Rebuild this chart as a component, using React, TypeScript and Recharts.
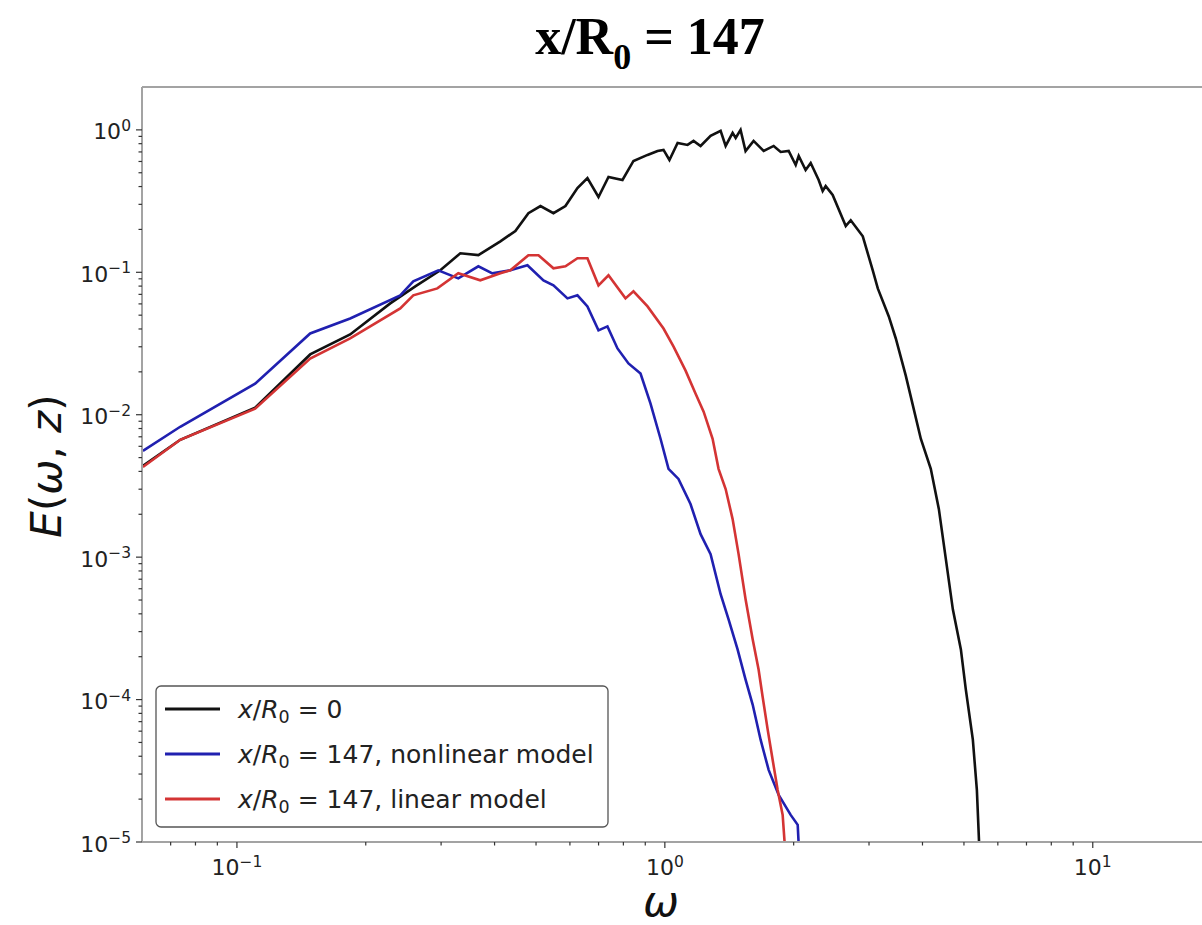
import React from "react";
import { LineChart, Line, XAxis, YAxis, Legend } from "recharts";

// ω and E(ω,z), one pair of arrays per curve
const BLACK_W = [0.0603, 0.0737, 0.1103, 0.1483, 0.1839, 0.2282, 0.2611, 0.2987, 0.3327, 0.3666, 0.4127, 0.4474, 0.4799, 0.5121, 0.5491, 0.5857, 0.6248, 0.6593, 0.6997, 0.7384, 0.7962, 0.8446, 0.911, 0.9614, 0.9929, 1.025, 1.071, 1.13, 1.167, 1.212, 1.279, 1.35, 1.387, 1.44, 1.464, 1.503, 1.544, 1.612, 1.702, 1.796, 1.865, 1.947, 2.022, 2.055, 2.133, 2.192, 2.288, 2.338, 2.376, 2.467, 2.647, 2.719, 2.901, 3.061, 3.145, 3.337, 3.465, 3.656, 3.756, 3.964, 4.183, 4.368, 4.536, 4.71, 4.918, 5.051, 5.245, 5.36, 5.476];
const BLACK_E = [0.00437, 0.00667, 0.0112, 0.0265, 0.0366, 0.0605, 0.0797, 0.1033, 0.136, 0.132, 0.165, 0.195, 0.26, 0.292, 0.26, 0.292, 0.391, 0.459, 0.338, 0.467, 0.445, 0.605, 0.667, 0.711, 0.723, 0.615, 0.81, 0.784, 0.837, 0.771, 0.907, 0.984, 0.771, 0.953, 0.878, 1.0, 0.711, 0.837, 0.711, 0.771, 0.7, 0.711, 0.567, 0.656, 0.523, 0.586, 0.445, 0.372, 0.403, 0.349, 0.211, 0.232, 0.179, 0.103, 0.0771, 0.049, 0.0343, 0.0188, 0.0134, 0.00678, 0.00417, 0.00218, 0.000968, 0.00043, 0.000225, 0.0001175, 0.0000523, 0.0000232, 0.000005];

const BLUE_W = [0.0603, 0.0737, 0.1103, 0.1483, 0.1839, 0.2408, 0.2583, 0.2955, 0.3291, 0.3666, 0.3953, 0.4355, 0.4774, 0.5204, 0.5491, 0.5921, 0.6248, 0.6593, 0.6997, 0.7343, 0.775, 0.8222, 0.8773, 0.9258, 0.977, 1.02, 1.076, 1.148, 1.212, 1.279, 1.35, 1.409, 1.479, 1.544, 1.604, 1.674, 1.748, 1.845, 1.968, 2.044, 2.077];
const BLUE_E = [0.00558, 0.00823, 0.01653, 0.0372, 0.0474, 0.0689, 0.0864, 0.1033, 0.0907, 0.1102, 0.0984, 0.1033, 0.1121, 0.0878, 0.081, 0.0656, 0.0689, 0.0576, 0.0391, 0.0417, 0.0292, 0.0229, 0.01945, 0.01195, 0.00678, 0.00417, 0.00354, 0.00236, 0.00145, 0.00105, 0.000549, 0.000366, 0.000225, 0.000138, 0.0000923, 0.0000523, 0.0000321, 0.0000214, 0.0000155, 0.0000132, 0.000005];

const RED_W = [0.0603, 0.0737, 0.1103, 0.1483, 0.1839, 0.2408, 0.2583, 0.294, 0.3291, 0.3704, 0.4127, 0.4355, 0.4799, 0.5066, 0.5491, 0.5857, 0.6248, 0.6593, 0.6997, 0.7384, 0.8091, 0.8446, 0.911, 0.9929, 1.048, 1.118, 1.18, 1.232, 1.293, 1.335, 1.387, 1.44, 1.487, 1.544, 1.604, 1.656, 1.692, 1.739, 1.786, 1.835, 1.885, 1.936];
const RED_E = [0.0043, 0.00667, 0.01102, 0.0248, 0.0343, 0.0558, 0.0689, 0.0771, 0.0984, 0.0878, 0.0984, 0.1033, 0.1318, 0.1318, 0.1067, 0.1102, 0.1255, 0.1255, 0.081, 0.0953, 0.0656, 0.0735, 0.0576, 0.0403, 0.0301, 0.0204, 0.01406, 0.0105, 0.00678, 0.00417, 0.00301, 0.00185, 0.00105, 0.000506, 0.000265, 0.0001626, 0.000105, 0.0000615, 0.0000378, 0.0000232, 0.0000155, 0.000005];

const X_MAJOR = [0.1, 1, 10];
const X_MINOR = [0.07, 0.08, 0.09, 0.2, 0.3, 0.4, 0.5, 0.6, 0.7, 0.8, 0.9, 2, 3, 4, 5, 6, 7, 8, 9];
const Y_MAJOR = [1e-5, 1e-4, 1e-3, 1e-2, 1e-1, 1];
const Y_MINOR: number[] = [];
[1e-5, 1e-4, 1e-3, 1e-2, 1e-1].forEach((d) => {
  for (let m = 2; m <= 9; m++) Y_MINOR.push(d * m);
});

const toRows = (w: number[], e: number[]) => w.map((v, i) => ({ w: v, e: e[i] }));
const black = toRows(BLACK_W, BLACK_E);
const blue = toRows(BLUE_W, BLUE_E);
const red = toRows(RED_W, RED_E);

const SPINE = "#a3a3a3";
const TICK = "#333";
const FONT = "DejaVu Sans";
const C_BLACK = "#111111";
const C_BLUE = "#2020b0";
const C_RED = "#d43434";

const expOf = (v: number) => {
  const n = Math.round(Math.log10(v));
  return n < 0 ? "\u2212" + -n : String(n);
};

function XTick(props: any) {
  const { x, y, payload } = props;
  const major = X_MAJOR.includes(payload.value);
  return (
    <g>
      <line x1={x} x2={x} y1={y} y2={y + (major ? 6 : 3.5)} stroke={TICK} strokeWidth={1.2} />
      {major && (
        <text x={x} y={y + 33} textAnchor="middle" fontSize={22} fontFamily={FONT} fill="#222">
          10<tspan dy={-8.5} fontSize={15.5}>{expOf(payload.value)}</tspan>
        </text>
      )}
    </g>
  );
}

function YTick(props: any) {
  const { x, y, payload } = props;
  const major = Y_MAJOR.includes(payload.value);
  return (
    <g>
      <line x1={x} x2={x - (major ? 6 : 3.5)} y1={y} y2={y} stroke={TICK} strokeWidth={1.2} />
      {major && (
        <text x={x - 11} y={y + 9.5} textAnchor="end" fontSize={22} fontFamily={FONT} fill="#222">
          10<tspan dy={-8.5} fontSize={15.5}>{expOf(payload.value)}</tspan>
        </text>
      )}
    </g>
  );
}

function ModelLabel({ n, tail }: { n: string; tail: string }) {
  return (
    <>
      <tspan fontStyle="italic">x</tspan>/<tspan fontStyle="italic">R</tspan>
      <tspan fontSize={17.5} dy={5}>0</tspan>
      <tspan dy={-5}> = {n}</tspan>
      {tail}
    </>
  );
}

const LABELS: Record<string, [string, string]> = {
  s0: ["0", ""],
  s1: ["147", ", nonlinear model"],
  s2: ["147", ", linear model"],
};

function LegendBox(props: any) {
  const items = props.payload || [];
  return (
    <svg width={454} height={143} style={{ display: "block" }}>
      <rect x={1} y={1} width={452} height={141} rx={5} fill="#fff" fillOpacity={0.85} stroke="#555" strokeWidth={1.3} />
      {items.map((it: any, i: number) => {
        const cy = 24 + i * 45;
        const [n, tail] = LABELS[it.value] || ["", ""];
        return (
          <g key={it.value}>
            <line x1={10} x2={65} y1={cy} y2={cy} stroke={it.color} strokeWidth={2.8} />
            <text x={83} y={cy + 9} fontSize={25} fontFamily={FONT} fill="#222">
              <ModelLabel n={n} tail={tail} />
            </text>
          </g>
        );
      })}
    </svg>
  );
}

export default function App() {
  return (
    <div style={{ position: "absolute", left: 0, top: 0, width: 1202, height: 925, background: "#fff" }}>
      <LineChart width={1202} height={925} margin={{ top: 0, right: 0, bottom: 0, left: 0 }}>
        <XAxis
          xAxisId="top"
          orientation="top"
          type="number"
          scale="log"
          domain={[0.06, 18]}
          allowDataOverflow
          height={87}
          tick={false}
          tickLine={false}
          axisLine={{ stroke: SPINE, strokeWidth: 2 }}
        />
        <XAxis
          dataKey="w"
          type="number"
          scale="log"
          domain={[0.06, 18]}
          allowDataOverflow
          height={83}
          ticks={[...X_MAJOR, ...X_MINOR]}
          interval={0}
          tickSize={0}
          tickMargin={0}
          tickLine={false}
          tick={XTick}
          axisLine={{ stroke: SPINE, strokeWidth: 2 }}
        />
        <YAxis
          type="number"
          scale="log"
          domain={[1e-5, 2]}
          allowDataOverflow
          width={142}
          ticks={[...Y_MAJOR, ...Y_MINOR]}
          interval={0}
          tickSize={0}
          tickMargin={0}
          tickLine={false}
          tick={YTick}
          axisLine={{ stroke: SPINE, strokeWidth: 2 }}
        />
        <Legend
          layout="vertical"
          align="center"
          verticalAlign="middle"
          wrapperStyle={{ left: 155, top: 685, width: 454, height: 143 }}
          content={LegendBox}
        />
        <Line data={black} dataKey="e" name="s0" type="linear" stroke={C_BLACK} strokeWidth={2.6} dot={false} isAnimationActive={false} />
        <Line data={blue} dataKey="e" name="s1" type="linear" stroke={C_BLUE} strokeWidth={2.6} dot={false} isAnimationActive={false} />
        <Line data={red} dataKey="e" name="s2" type="linear" stroke={C_RED} strokeWidth={2.6} dot={false} isAnimationActive={false} />
      </LineChart>
      <svg width={1202} height={925} style={{ position: "absolute", left: 0, top: 0, pointerEvents: "none" }}>
        <text x={650} y={54} textAnchor="middle" fontSize={52} fontWeight="bold" fontFamily="Liberation Serif" fill="#000">
          x/R<tspan fontSize={36} dy={15}>0</tspan>
          <tspan dy={-15}> = 147</tspan>
        </text>
        <text transform="translate(61,466) rotate(-90)" textAnchor="middle" fontSize={42} fontFamily={FONT} fill="#111">
          <tspan fontStyle="italic">E</tspan>(<tspan fontStyle="italic">ω</tspan>, <tspan fontStyle="italic">z</tspan>)
        </text>
        <text x={661} y={916} textAnchor="middle" fontSize={43} fontStyle="italic" fontFamily={FONT} fill="#111">
          ω
        </text>
      </svg>
    </div>
  );
}
